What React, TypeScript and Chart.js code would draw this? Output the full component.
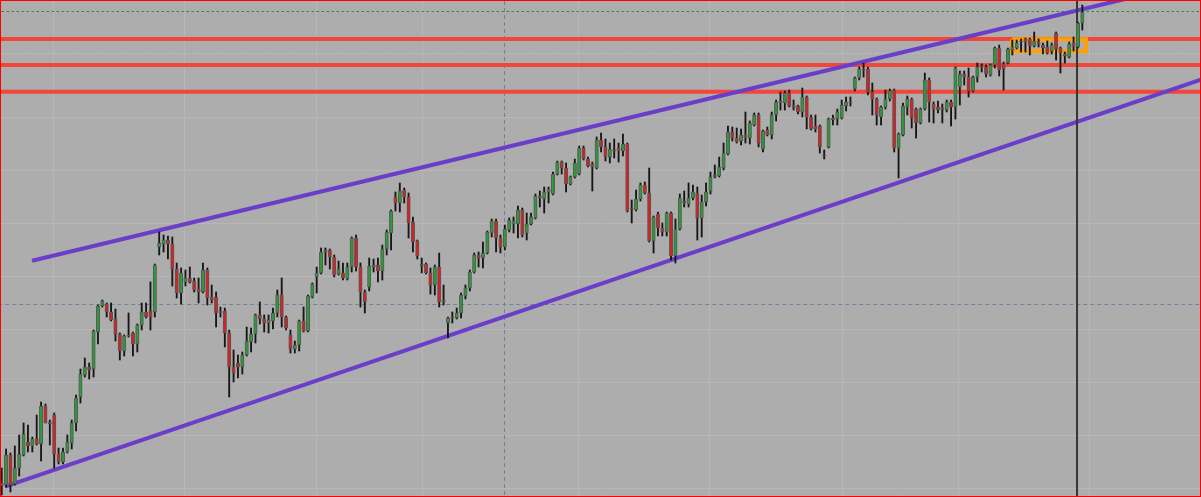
import React, { useEffect, useRef } from "react";
import { Chart, registerables } from "chart.js";

Chart.register(...registerables);

// OHLC prices (arbitrary points), one entry per bar
const OPEN = [
  17,15,45,16,32,45,58,54,61,56,
  94,78,85,46,38,48,57,77,103,125,
  133,131,168,194,196,188,181,166,149,164,
  167,156,175,188,189,188,253,256,260,256,
  231,207,218,222,219,211,208,230,203,203,
  189,189,167,133,137,133,145,158,166,185,
  181,177,179,187,205,183,165,151,155,179,
  169,203,223,227,248,250,243,226,227,221,
  233,262,233,208,213,233,235,229,251,267,
  303,297,310,303,278,259,236,236,227,215,
  233,200,177,183,182,187,204,212,228,245,
  242,247,267,279,262,253,270,276,276,290,
  267,276,282,302,301,308,306,326,338,332,
  316,323,326,352,341,336,332,360,353,343,
  350,352,349,356,292,290,301,315,307,259,
  286,272,268,287,244,271,299,296,302,307,
  282,298,309,323,324,332,346,368,362,359,
  365,362,375,385,351,370,365,385,397,397,
  407,395,394,388,403,383,374,374,345,353,
  382,381,382,394,398,411,422,431,431,408,
  401,383,393,401,410,352,365,393,401,391,
  377,391,420,396,393,392,390,398,393,413,
  426,423,409,423,434,433,425,435,452,436,
  437,450,452,459,461,461,454,458,455,453,
  449,467,452,446,443,457,453,477,
];
const HIGH = [
  32,51,47,54,65,77,75,63,85,98,
  96,80,87,52,52,65,80,105,131,142,
  137,170,195,200,197,197,191,167,165,187,
  168,176,197,197,218,236,268,265,264,263,
  237,232,230,233,222,222,237,232,215,208,
  193,192,170,150,145,148,173,172,186,198,
  185,185,192,210,222,184,170,159,180,193,
  205,217,233,252,252,251,245,239,237,237,
  263,265,237,210,242,241,242,255,270,290,
  308,317,312,307,283,260,242,237,232,235,
  247,215,183,188,192,207,215,230,247,248,
  258,269,281,281,265,275,282,283,294,292,
  287,287,306,309,313,313,328,339,339,337,
  324,341,354,354,343,338,363,367,361,357,
  361,357,366,357,300,310,317,318,332,284,
  288,277,288,288,281,306,309,317,315,313,
  305,317,328,335,343,357,374,373,372,371,
  388,379,387,387,370,373,388,400,408,409,
  410,400,395,412,404,385,385,375,350,382,
  385,391,400,403,403,423,433,437,433,417,
  402,394,410,411,411,367,397,404,402,392,
  392,427,422,398,399,396,400,400,433,429,
  429,432,424,437,436,435,436,453,455,438,
  452,460,460,461,462,462,468,461,457,459,
  457,468,453,448,458,463,478,495,
];
const LOW = [
  5,13,8,15,24,44,48,48,55,39,
  77,55,32,36,36,47,51,69,97,123,
  121,123,156,193,183,179,159,140,144,163,
  144,148,170,182,170,183,245,248,241,214,
  202,196,214,217,208,197,207,195,197,173,
  183,153,103,118,122,126,144,148,157,176,
  168,167,171,183,173,170,147,147,149,168,
  168,202,207,226,235,231,223,225,220,220,
  228,229,193,187,209,228,218,220,245,250,
  289,288,297,262,248,241,227,226,206,205,
  193,195,162,177,181,182,201,209,227,233,
  232,246,263,248,247,250,268,267,262,263,
  260,275,281,293,287,297,305,325,326,308,
  315,322,325,340,333,309,331,348,339,337,
  342,338,344,288,277,289,299,306,258,247,
  264,264,264,240,237,270,293,293,300,260,
  263,294,306,322,323,330,345,359,357,355,
  357,356,374,353,348,364,361,379,390,390,
  393,390,386,383,371,370,368,347,341,352,
  375,375,381,389,394,409,420,423,405,385,
  375,375,391,399,348,322,364,385,372,362,
  376,390,378,377,387,377,388,374,381,395,
  415,403,408,418,428,423,424,432,424,410,
  436,445,451,448,448,445,453,453,446,446,
  446,440,427,437,442,449,452,470,
];
const CLOSE = [
  14,45,15,32,46,66,54,61,56,94,
  77,76,46,38,48,58,77,102,126,133,
  130,169,194,199,188,180,166,149,164,165,
  156,175,188,183,183,235,257,260,256,231,
  207,227,222,218,210,208,230,202,200,187,
  187,167,133,127,133,145,159,166,185,181,
  177,180,187,205,183,172,151,155,179,169,
  204,216,227,248,250,243,225,231,222,233,
  262,233,208,198,234,235,229,251,268,289,
  297,309,303,277,258,244,234,227,215,233,
  198,198,182,182,187,205,212,228,245,242,
  247,268,279,262,253,271,280,279,290,265,
  276,283,304,304,308,311,326,338,332,316,
  323,337,352,341,334,333,360,353,343,351,
  349,349,356,289,291,301,315,307,259,283,
  272,268,287,244,271,302,297,302,308,282,
  298,308,323,325,333,347,368,362,358,365,
  362,377,385,357,369,365,385,398,399,407,
  394,393,388,403,383,371,371,353,344,381,
  380,388,395,398,397,422,431,430,408,401,
  385,393,401,409,352,366,394,401,382,377,
  391,420,398,391,390,390,398,393,432,426,
  423,409,423,433,433,426,435,452,430,431,
  451,453,457,458,458,454,459,456,452,447,
  455,451,447,444,456,453,477,488,
];

// Horizontal levels (price)
const RESISTANCE_LEVELS = [461, 435, 408.2];
const GREEN_LEVEL = 488.5;
const DOTTED_LEVEL = 446.5;
const CROSS_PRICE = 195.5;
const CROSS_BAR = 114.93;
const CURSOR_BAR = 245.79;

// Channel lines: [barIndex, price] endpoints
const UPPER_CHANNEL = [[6.93, 239.2], [256.75, 501]];
const LOWER_CHANNEL = [[0.754, 13.3], [274.1, 420.4]];

// Orange box: bars and prices
const BOX_BARS = [230.93, 247.85];
const BOX_PRICES = [448.7, 460.7];

// Grid positions
const GRID_PRICES = [11.7, 64.7, 117.7, 170.7, 223.7, 276.7, 329.7, 382.7, 435.7, 488.7];
const GRID_BARS = [11.73, 41.67, 71.84, 96.07, 131.73, 161.89, 192.07, 218.81, 248.75];

const X_MIN = -0.389;
const X_MAX = 274.126;
const Y_MIN = 3;
const Y_MAX = 500;

const BG = "#adadad";
const UP_FILL = "#2e9a38";
const DOWN_FILL = "#d62222";
const BODY_EDGE = "#585858";
const WICK = "#161616";
const PURPLE = "#6a3ec9";
const RED_LINE = "#f2463a";
const ORANGE = "#ffa000";
const CROSS = "#6c84a0";

const framePlugin = {
  id: "frame",
  beforeDraw(chart: any) {
    const { ctx, width, height } = chart;
    ctx.save();
    ctx.fillStyle = BG;
    ctx.fillRect(0, 0, width, height);
    ctx.restore();
  },
  afterDraw(chart: any) {
    const { ctx, width, height } = chart;
    ctx.save();
    ctx.strokeStyle = "#ff0000";
    ctx.lineWidth = 2;
    ctx.strokeRect(0, 0, width, height);
    ctx.restore();
  },
};

function lineDs(data: { x: number; y: number }[], color: string, width: number, dash: number[] = []) {
  return {
    type: "line" as const,
    data,
    borderColor: color,
    backgroundColor: color,
    borderWidth: width,
    borderDash: dash,
    pointRadius: 0,
    fill: false,
    tension: 0,
    borderCapStyle: "butt" as const,
    borderJoinStyle: "miter" as const,
  };
}

export default function App() {
  const ref = useRef<HTMLCanvasElement | null>(null);

  useEffect(() => {
    if (!ref.current) return;
    const bodies = OPEN.map((o, i) => ({ x: i, y: [o, CLOSE[i]] }));
    const bodyColors = OPEN.map((o, i) => (CLOSE[i] >= o ? UP_FILL : DOWN_FILL));
    const wicks = LOW.map((l, i) => ({ x: i, y: [l, HIGH[i]] }));

    const full = (p: number) => [
      { x: X_MIN - 2, y: p },
      { x: X_MAX + 2, y: p },
    ];
    const vert = (b: number) => [
      { x: b, y: Y_MIN - 5 },
      { x: b, y: Y_MAX + 5 },
    ];

    const datasets: any[] = [
      {
        type: "bar",
        data: bodies,
        backgroundColor: bodyColors,
        borderColor: BODY_EDGE,
        borderWidth: 1,
        borderSkipped: false,
        barThickness: 3.4,
        grouped: false,
      },
      {
        type: "bar",
        data: wicks,
        backgroundColor: WICK,
        borderWidth: 0,
        barThickness: 1.2,
        grouped: false,
      },
      lineDs(vert(CURSOR_BAR), "#363636", 2),
      lineDs(
        [
          { x: BOX_BARS[0], y: BOX_PRICES[1] },
          { x: BOX_BARS[1], y: BOX_PRICES[1] },
          { x: BOX_BARS[1], y: BOX_PRICES[0] },
          { x: BOX_BARS[0], y: BOX_PRICES[0] },
          { x: BOX_BARS[0], y: BOX_PRICES[1] },
        ],
        ORANGE,
        4
      ),
      lineDs(UPPER_CHANNEL.map(([x, y]) => ({ x, y })), PURPLE, 4),
      lineDs(LOWER_CHANNEL.map(([x, y]) => ({ x, y })), PURPLE, 4),
      ...RESISTANCE_LEVELS.map((p) => lineDs(full(p), RED_LINE, 4)),
      lineDs(vert(CROSS_BAR), CROSS, 1, [4, 3]),
      lineDs(full(CROSS_PRICE), CROSS, 1, [4, 3]),
      lineDs(full(DOTTED_LEVEL), "#c9c9c9", 1, [1, 2]),
      lineDs(full(GREEN_LEVEL), "#3a8a4a", 1, [3, 2]),
    ];

    const chart = new Chart(ref.current, {
      type: "bar",
      data: { datasets },
      plugins: [framePlugin],
      options: {
        animation: false,
        responsive: false,
        devicePixelRatio: 1,
        events: [],
        layout: { padding: 0 },
        plugins: {
          legend: { display: false },
          tooltip: { enabled: false },
        },
        scales: {
          x: {
            type: "linear",
            min: X_MIN,
            max: X_MAX,
            offset: false,
            afterBuildTicks: (scale: any) => {
              scale.ticks = GRID_BARS.map((v) => ({ value: v }));
            },
            ticks: { display: false },
            border: { display: false },
            grid: { color: "#b7b7b7", lineWidth: 1, drawTicks: false, offset: false },
          },
          y: {
            type: "linear",
            min: Y_MIN,
            max: Y_MAX,
            afterBuildTicks: (scale: any) => {
              scale.ticks = GRID_PRICES.map((v) => ({ value: v }));
            },
            ticks: { display: false },
            border: { display: false },
            grid: { color: "#b7b7b7", lineWidth: 1, drawTicks: false },
          },
        },
      } as any,
    });
    return () => chart.destroy();
  }, []);

  return (
    <div style={{ position: "fixed", left: 0, top: 0, width: 1201, height: 497 }}>
      <canvas ref={ref} width={1201} height={497} style={{ display: "block", width: 1201, height: 497 }} />
    </div>
  );
}
